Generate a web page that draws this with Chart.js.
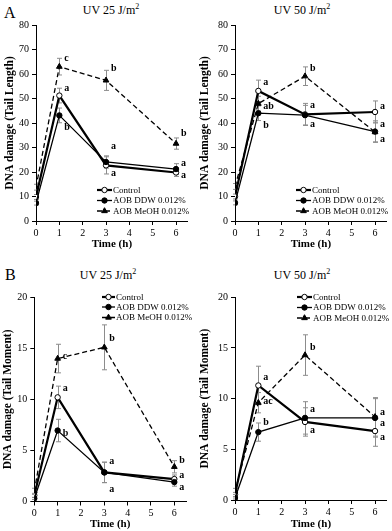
<!DOCTYPE html>
<html><head><meta charset="utf-8">
<script src="https://cdn.jsdelivr.net/npm/chart.js@4/dist/chart.umd.min.js"></script>
<style>
body{margin:0;background:#fff;}
#wrap{position:relative;width:392px;height:531px;overflow:hidden;font-family:"Liberation Serif","Times New Roman",serif;color:#000;}
canvas{position:absolute;}
.lbl{position:absolute;white-space:nowrap;line-height:1;}
.ttl{position:absolute;white-space:nowrap;line-height:1;font-size:12px;transform:translate(-50%,-50%);}
.ttl span{font-size:8px;position:relative;top:-5px;}
</style></head><body>
<div id="wrap">
  <div class="lbl" style="left:4px;top:5px;font-size:16px">A</div>
  <div class="lbl" style="left:5px;top:267px;font-size:16px">B</div>
  <div class="ttl" style="left:111px;top:10px">UV 25 J/m<span>2</span></div>
  <div class="ttl" style="left:302px;top:10px">UV 50 J/m<span>2</span></div>
  <div class="ttl" style="left:108px;top:275px">UV 25 J/m<span>2</span></div>
  <div class="ttl" style="left:302px;top:275px">UV 50 J/m<span>2</span></div>
  <canvas id="c1" width="195" height="260" style="left:0;top:0"></canvas>
  <canvas id="c2" width="197" height="260" style="left:195px;top:0"></canvas>
  <canvas id="c3" width="195" height="271" style="left:0;top:260px"></canvas>
  <canvas id="c4" width="197" height="271" style="left:195px;top:260px"></canvas>
</div>
<script>
// ---- data ----
const times = [0, 1, 3, 6];
const seriesNames = ['Control', 'AOB DDW 0.012%', 'AOB MeOH 0.012%'];
const xTickValues = [0, 1, 2, 3, 4, 5, 6];
const yTicksTailLength = [0, 10, 20, 30, 40, 50, 60, 70, 80];
const yTicksTailMoment = [0, 5, 10, 15, 20];

// Tail length, UV 25
const tl25Control = [9.8, 51.2, 22.7, 19.8];
const tl25ControlErr = [1.0, 3.0, 3.5, 1.6];
const tl25DDW = [7.3, 43.1, 24.1, 21.2];
const tl25DDWErr = [0.8, 3.0, 2.5, 2.2];
const tl25MeOH = [13.8, 63.0, 57.4, 31.6];
const tl25MeOHErr = [1.2, 3.4, 4.1, 2.3];
const tl25LetterText = ['c', 'a', 'b', 'b', 'a', 'a', 'b', 'a', 'a'];
const tl25LetterX = [1, 1, 1, 3, 3, 3, 6, 6, 6];
const tl25LetterY = [66.5, 54.3, 38.0, 62.4, 30.6, 19.6, 35.9, 23.3, 18.8];

// Tail length, UV 50
const tl50Control = [10.0, 53.1, 43.5, 44.5];
const tl50ControlErr = [1.0, 4.4, 4.5, 4.5];
const tl50DDW = [7.4, 44.0, 43.2, 36.5];
const tl50DDWErr = [0.8, 3.0, 4.0, 4.4];
const tl50MeOH = [14.1, 47.9, 59.1, 36.3];
const tl50MeOHErr = [1.2, 3.0, 3.8, 4.0];
const tl50LetterText = ['a', 'ab', 'b', 'b', 'a', 'a', 'a', 'a', 'a'];
const tl50LetterX = [1, 1, 1, 3, 3, 3, 6, 6, 6];
const tl50LetterY = [56.4, 46.8, 39.0, 62.2, 47.0, 39.4, 46.8, 39.4, 33.2];

// Tail moment, UV 25
const tm25Control = [0.6, 10.2, 2.85, 2.2];
const tm25ControlErr = [0.2, 1.1, 1.0, 0.4];
const tm25DDW = [0.3, 6.95, 2.85, 1.9];
const tm25DDWErr = [0.1, 1.1, 1.0, 0.4];
const tm25MeOH = [1.0, 14.0, 15.1, 3.4];
const tm25MeOHErr = [0.3, 1.4, 2.2, 0.6];
const tm25LetterText = ['c', 'a', 'b', 'b', 'a', 'a', 'b', 'a', 'a'];
const tm25LetterX = [1, 1, 1, 3, 3, 3, 6, 6, 6];
const tm25LetterY = [14.2, 11.1, 6.7, 16.0, 3.9, 1.2, 4.0, 2.6, 1.4];

// Tail moment, UV 50
const tm50Control = [0.55, 11.3, 7.7, 6.8];
const tm50ControlErr = [0.2, 1.9, 1.4, 1.5];
const tm50DDW = [0.2, 6.7, 8.1, 8.1];
const tm50DDWErr = [0.1, 0.9, 1.6, 1.9];
const tm50MeOH = [0.85, 9.6, 14.3, 8.2];
const tm50MeOHErr = [0.3, 1.0, 2.0, 1.9];
const tm50LetterText = ['a', 'ac', 'b', 'b', 'a', 'a', 'a', 'a', 'a'];
const tm50LetterX = [1, 1, 1, 3, 3, 3, 6, 6, 6];
const tm50LetterY = [12.1, 9.7, 7.7, 15.05, 8.9, 6.9, 8.6, 7.6, 6.2];

// ---- drawing ----
const FONT = "'Liberation Serif','Times New Roman',serif";

const errorBarPlugin = {
  id: 'errorBars',
  beforeDatasetsDraw(chart) {
    const {ctx} = chart, xs = chart.scales.x, ys = chart.scales.y;
    ctx.save();
    ctx.strokeStyle = '#8c8c8c';
    ctx.lineWidth = 1;
    chart.data.datasets.forEach(ds => {
      ds.data.forEach((p, i) => {
        const e = ds.errors[i];
        const x = Math.round(xs.getPixelForValue(p.x)) + 0.5;
        const y1 = ys.getPixelForValue(p.y - e), y2 = ys.getPixelForValue(p.y + e);
        ctx.beginPath();
        ctx.moveTo(x, y1); ctx.lineTo(x, y2);
        ctx.moveTo(x - 2.5, y1); ctx.lineTo(x + 2.5, y1);
        ctx.moveTo(x - 2.5, y2); ctx.lineTo(x + 2.5, y2);
        ctx.stroke();
      });
    });
    ctx.restore();
  }
};

const letterPlugin = {
  id: 'sigLetters',
  afterDatasetsDraw(chart, args, opts) {
    const {ctx} = chart, xs = chart.scales.x, ys = chart.scales.y;
    ctx.save();
    ctx.fillStyle = '#000';
    ctx.font = 'bold 10px ' + FONT;
    ctx.textAlign = 'left';
    ctx.textBaseline = 'middle';
    opts.text.forEach((t, i) => {
      ctx.fillText(t, xs.getPixelForValue(opts.x[i]) + 5, ys.getPixelForValue(opts.y[i]));
    });
    ctx.restore();
  }
};

function drawMarker(ctx, style, x, y, r, fill) {
  ctx.beginPath();
  if (style === 'triangle') {
    for (let k = 0; k < 3; k++) {
      const a = k * 2 * Math.PI / 3;
      const px = x + Math.sin(a) * r, py = y - Math.cos(a) * r;
      if (k === 0) ctx.moveTo(px, py); else ctx.lineTo(px, py);
    }
    ctx.closePath();
  } else {
    ctx.arc(x, y, r, 0, Math.PI * 2);
  }
  ctx.fillStyle = fill;
  ctx.fill();
  ctx.lineWidth = 1;
  ctx.strokeStyle = '#000';
  ctx.stroke();
}

const legendPlugin = {
  id: 'panelLegend',
  afterDraw(chart, args, opts) {
    const {ctx} = chart;
    ctx.save();
    chart.data.datasets.forEach((ds, i) => {
      const y = opts.rows[i];
      ctx.beginPath();
      ctx.setLineDash(ds.borderDash || []);
      ctx.lineWidth = ds.borderWidth;
      ctx.strokeStyle = '#000';
      ctx.moveTo(opts.x1, y); ctx.lineTo(opts.x2, y);
      ctx.stroke();
      ctx.setLineDash([]);
      drawMarker(ctx, ds.pointStyle, (opts.x1 + opts.x2) / 2, y, ds.pointRadius, ds.pointBackgroundColor);
      ctx.fillStyle = '#000';
      ctx.font = '9px ' + FONT;
      ctx.textAlign = 'left';
      ctx.textBaseline = 'middle';
      ctx.fillText(ds.label, opts.x2 + 1, y + 0.5);
    });
    ctx.restore();
  }
};

function series(vals, errs, idx) {
  const styles = [
    {borderWidth: 2.2, borderDash: [], pointStyle: 'circle', pointRadius: 2.7, pointBackgroundColor: '#fff'},
    {borderWidth: 1.3, borderDash: [], pointStyle: 'circle', pointRadius: 2.7, pointBackgroundColor: '#000'},
    {borderWidth: 1.3, borderDash: [5, 3], pointStyle: 'triangle', pointRadius: 3.3, pointBackgroundColor: '#000'}
  ][idx];
  return Object.assign({
    label: seriesNames[idx],
    data: times.map((t, i) => ({x: t, y: vals[i]})),
    errors: errs,
    borderColor: '#000',
    pointBorderColor: '#000',
    pointBorderWidth: 1,
    tension: 0,
    fill: false,
    order: 2 - idx
  }, styles);
}

function makePanel(p) {
  const W = p.W, H = p.H;
  new Chart(document.getElementById(p.id), {
    type: 'line',
    data: {datasets: p.datasets},
    plugins: [errorBarPlugin, letterPlugin, legendPlugin],
    options: {
      responsive: false,
      animation: false,
      devicePixelRatio: 1,
      layout: {padding: {left: 0, top: p.top, right: W - p.right, bottom: p.padB}},
      plugins: {
        legend: {display: false},
        tooltip: {enabled: false},
        sigLetters: p.letters,
        panelLegend: p.legend
      },
      scales: {
        x: {
          type: 'linear', min: 0, max: 6.5,
          afterBuildTicks: s => { s.ticks = xTickValues.map(v => ({value: v})); },
          afterFit: s => { s.height = (H - p.padB) - p.bottom; },
          ticks: {font: {family: FONT, size: 10}, color: '#000', padding: 2, maxRotation: 0, autoSkip: false},
          grid: {display: true, drawOnChartArea: false, drawTicks: true, tickLength: 4, color: '#000', lineWidth: 1},
          border: {display: true, color: '#000', width: 1},
          title: {display: true, text: 'Time (h)', color: '#000',
                  font: {family: FONT, size: 11, weight: 'bold', lineHeight: 1}, padding: {top: 0, bottom: p.xTitlePad}}
        },
        y: {
          type: 'linear', min: 0, max: p.yMax,
          afterBuildTicks: s => { s.ticks = p.yTicks.map(v => ({value: v})); },
          afterFit: s => { s.width = p.left; },
          ticks: {font: {family: FONT, size: 10}, color: '#000', padding: 3},
          grid: {display: true, drawOnChartArea: false, drawTicks: true, tickLength: 4, color: '#000', lineWidth: 1},
          border: {display: true, color: '#000', width: 1},
          title: {display: true, text: p.yTitle, color: '#000',
                  font: {family: FONT, size: 11.5, weight: 'bold', lineHeight: 1}, padding: {top: p.yTitlePad, bottom: 0}}
        }
      }
    }
  });
}

makePanel({
  id: 'c1', W: 195, H: 260, left: 36, right: 187.7, top: 25, bottom: 221, padB: 8.5, xTitlePad: 2, yTitlePad: 4.5,
  yMax: 80, yTicks: yTicksTailLength, yTitle: 'DNA damage (Tail Length)',
  datasets: [series(tl25Control, tl25ControlErr, 0), series(tl25DDW, tl25DDWErr, 1), series(tl25MeOH, tl25MeOHErr, 2)],
  letters: {text: tl25LetterText, x: tl25LetterX, y: tl25LetterY},
  legend: {x1: 97, x2: 112, rows: [190, 200.5, 211]}
});
makePanel({
  id: 'c2', W: 197, H: 260, left: 40, right: 191.7, top: 25, bottom: 221, padB: 8.5, xTitlePad: 2, yTitlePad: 4.5,
  yMax: 80, yTicks: yTicksTailLength, yTitle: 'DNA damage (Tail Length)',
  datasets: [series(tl50Control, tl50ControlErr, 0), series(tl50DDW, tl50DDWErr, 1), series(tl50MeOH, tl50MeOHErr, 2)],
  letters: {text: tl50LetterText, x: tl50LetterX, y: tl50LetterY},
  legend: {x1: 101, x2: 116, rows: [190, 200.5, 211]}
});
makePanel({
  id: 'c3', W: 195, H: 271, left: 34.3, right: 186, top: 37.3, bottom: 241.5, padB: 0.5, xTitlePad: 1, yTitlePad: 2.5,
  yMax: 20, yTicks: yTicksTailMoment, yTitle: 'DNA damage (Tail Moment)',
  datasets: [series(tm25Control, tm25ControlErr, 0), series(tm25DDW, tm25DDWErr, 1), series(tm25MeOH, tm25MeOHErr, 2)],
  letters: {text: tm25LetterText, x: tm25LetterX, y: tm25LetterY},
  legend: {x1: 102, x2: 115, rows: [37, 47, 57.5]}
});
makePanel({
  id: 'c4', W: 197, H: 271, left: 40, right: 191.7, top: 37.3, bottom: 240, padB: 0.5, xTitlePad: 1, yTitlePad: 4.5,
  yMax: 20, yTicks: yTicksTailMoment, yTitle: 'DNA damage (Tail Moment)',
  datasets: [series(tm50Control, tm50ControlErr, 0), series(tm50DDW, tm50DDWErr, 1), series(tm50MeOH, tm50MeOHErr, 2)],
  letters: {text: tm50LetterText, x: tm50LetterX, y: tm50LetterY},
  legend: {x1: 102, x2: 117, rows: [37, 47.5, 58]}
});
</script>
</body></html>
